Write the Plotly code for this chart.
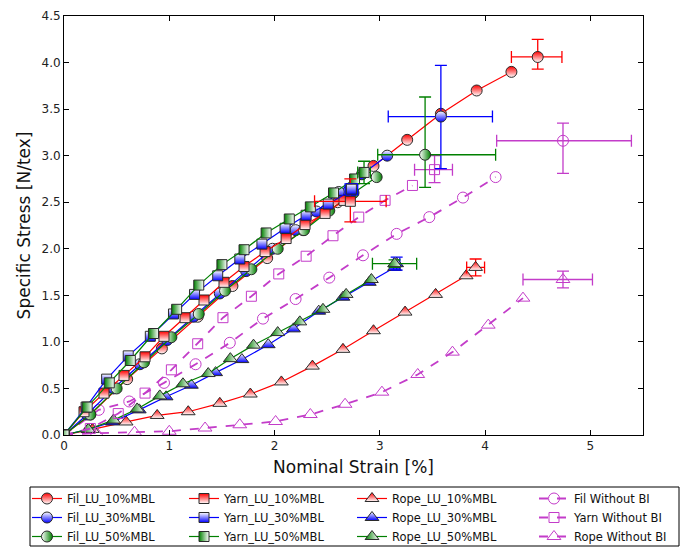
import plotly.graph_objects as go

# ---------------- data ----------------
fil10_x = [0, 0.25, 0.6, 0.93, 1.27, 1.6, 1.93, 2.27, 2.6, 2.94, 3.26, 3.58, 3.92, 4.25]
fil10_y = [0, 0.22, 0.6, 0.93, 1.27, 1.6, 1.9, 2.2, 2.5, 2.89, 3.17, 3.45, 3.70, 3.90]
fil30_x = [0, 0.22, 0.47, 0.72, 0.98, 1.23, 1.48, 1.73, 1.98, 2.2, 2.4, 2.61, 2.83, 3.07]
fil30_y = [0, 0.22, 0.5, 0.76, 1.02, 1.27, 1.52, 1.76, 2.0, 2.2, 2.4, 2.61, 2.80, 3.0]
fil50_x = [0, 0.25, 0.5, 0.76, 1.02, 1.28, 1.53, 1.78, 2.03, 2.28, 2.52, 2.75, 2.97]
fil50_y = [0, 0.22, 0.5, 0.78, 1.05, 1.3, 1.55, 1.78, 2.0, 2.2, 2.41, 2.60, 2.77]

yarn10_x = [0, 0.19, 0.38, 0.57, 0.77, 0.95, 1.15, 1.33, 1.52, 1.71, 1.91, 2.11, 2.29, 2.48, 2.66]
yarn10_y = [0, 0.25, 0.45, 0.64, 0.84, 1.06, 1.26, 1.45, 1.64, 1.81, 1.97, 2.11, 2.26, 2.38, 2.52]
yarn30_x = [0, 0.21, 0.405, 0.61, 0.82, 1.04, 1.24, 1.46, 1.67, 1.88, 2.10, 2.30, 2.51, 2.72]
yarn30_y = [0, 0.30, 0.60, 0.85, 1.06, 1.30, 1.51, 1.71, 1.89, 2.05, 2.22, 2.36, 2.48, 2.62]
yarn50_x = [0, 0.22, 0.43, 0.63, 0.85, 1.07, 1.28, 1.50, 1.71, 1.92, 2.14, 2.34, 2.56, 2.76]
yarn50_y = [0, 0.30, 0.56, 0.80, 1.09, 1.35, 1.61, 1.83, 1.99, 2.17, 2.32, 2.45, 2.60, 2.75]

rope10_x = [0, 0.27, 0.59, 0.885, 1.18, 1.48, 1.77, 2.065, 2.36, 2.65, 2.94, 3.24, 3.53, 3.82]
rope10_y = [0, 0.06, 0.14, 0.21, 0.25, 0.34, 0.44, 0.57, 0.74, 0.92, 1.12, 1.32, 1.51, 1.71]
rope30_x = [0, 0.23, 0.46, 0.715, 0.97, 1.21, 1.44, 1.69, 1.94, 2.18, 2.42, 2.65, 2.90, 3.14]
rope30_y = [0, 0.06, 0.14, 0.27, 0.41, 0.535, 0.67, 0.81, 0.97, 1.14, 1.33, 1.48, 1.64, 1.80]
rope50_x = [0, 0.23, 0.47, 0.695, 0.91, 1.13, 1.37, 1.58, 1.80, 2.03, 2.24, 2.46, 2.68, 2.92]
rope50_y = [0, 0.06, 0.16, 0.28, 0.42, 0.55, 0.66, 0.82, 0.965, 1.10, 1.215, 1.35, 1.51, 1.67]

filwo_x = [0, 0.33, 0.62, 0.95, 1.25, 1.575, 1.89, 2.2, 2.52, 2.84, 3.16, 3.47, 3.79, 4.1]
filwo_y = [0, 0.27, 0.36, 0.56, 0.76, 0.99, 1.25, 1.46, 1.69, 1.93, 2.16, 2.34, 2.55, 2.77]
yarnwo_x = [0, 0.25, 0.515, 0.77, 1.02, 1.27, 1.51, 1.78, 2.04, 2.30, 2.555, 2.80, 3.05, 3.31]
yarnwo_y = [0, 0.07, 0.23, 0.45, 0.70, 0.98, 1.26, 1.49, 1.73, 1.92, 2.14, 2.34, 2.52, 2.68]
ropewo_x = [0, 0.31, 0.67, 1.0, 1.34, 1.67, 2.01, 2.34, 2.67, 3.02, 3.36, 3.69, 4.03, 4.36]
ropewo_y = [0, 0.02, 0.03, 0.04, 0.075, 0.11, 0.145, 0.22, 0.33, 0.46, 0.65, 0.89, 1.18, 1.47]

# break points: [x, y, x_err_plus, x_err_minus, y_err_plus, y_err_minus]
fil10_break = [4.5, 4.06, 0.23, 0.25, 0.19, 0.13]
fil30_break = [3.58, 3.42, 0.49, 0.50, 0.55, 0.56]
fil50_break = [3.43, 3.01, 0.67, 0.45, 0.62, 0.35]
yarn10_break = [2.72, 2.51, 0.34, 0.34, 0.24, 0.22]
yarn30_break = [2.73, 2.64, 0.06, 0.06, 0.06, 0.06]
yarn50_break = [2.85, 2.82, 0.06, 0.06, 0.12, 0.12]
rope10_break = [3.91, 1.80, 0.085, 0.085, 0.09, 0.09]
rope30_break = [3.16, 1.84, 0.03, 0.03, 0.07, 0.07]
rope50_break = [3.14, 1.84, 0.21, 0.21, 0.04, 0.04]
filwo_break = [4.74, 3.16, 0.65, 0.63, 0.19, 0.35]
yarnwo_break = [3.52, 2.85, 0.17, 0.19, 0.15, 0.14]
ropewo_break = [4.74, 1.67, 0.28, 0.38, 0.09, 0.09]

x_ticks = [0, 1, 2, 3, 4, 5]
y_ticks = [0.0, 0.5, 1.0, 1.5, 2.0, 2.5, 3.0, 3.5, 4.0, 4.5]

RED, BLUE, GREEN, MAG = "#ff0000", "#0000ff", "#008000", "#c33cc9"
EDGE = "#2b2b2b"


def half_marker(symbol, color, half):
    # emulate matplotlib half-filled markers with a two-colour gradient
    if half == "top":
        return dict(symbol=symbol, color=color, gradient=dict(type="vertical", color="white"))
    if half == "bottom":
        return dict(symbol=symbol, color="white", gradient=dict(type="vertical", color=color))
    if half == "left":
        return dict(symbol=symbol, color="white", gradient=dict(type="horizontal", color=color))
    return dict(symbol=symbol, color=color, gradient=dict(type="horizontal", color="white"))


def make_marker(sym, col, half):
    size = {"circle": 11, "square": 10, "triangle-up": 12}.get(sym.replace("-open", ""), 11)
    if half is None:
        return dict(symbol=sym, color=col, size=size, line=dict(color=col, width=1))
    mk = half_marker(sym, col, half)
    mk.update(size=size, line=dict(color=EDGE, width=1))
    return mk


series = [
    # name, x, y, break, symbol, colour, half, legend column
    ("Fil_LU_10%MBL", fil10_x, fil10_y, fil10_break, "circle", RED, "top", "legend"),
    ("Fil_LU_30%MBL", fil30_x, fil30_y, fil30_break, "circle", BLUE, "bottom", "legend"),
    ("Fil_LU_50%MBL", fil50_x, fil50_y, fil50_break, "circle", GREEN, "left", "legend"),
    ("Yarn_LU_10%MBL", yarn10_x, yarn10_y, yarn10_break, "square", RED, "top", "legend2"),
    ("Yarn_LU_30%MBL", yarn30_x, yarn30_y, yarn30_break, "square", BLUE, "bottom", "legend2"),
    ("Yarn_LU_50%MBL", yarn50_x, yarn50_y, yarn50_break, "square", GREEN, "right", "legend2"),
    ("Rope_LU_10%MBL", rope10_x, rope10_y, rope10_break, "triangle-up", RED, "top", "legend3"),
    ("Rope_LU_30%MBL", rope30_x, rope30_y, rope30_break, "triangle-up", BLUE, "bottom", "legend3"),
    ("Rope_LU_50%MBL", rope50_x, rope50_y, rope50_break, "triangle-up", GREEN, "right", "legend3"),
    ("Fil Without BI", filwo_x, filwo_y, filwo_break, "circle-open", MAG, None, "legend4"),
    ("Yarn Without BI", yarnwo_x, yarnwo_y, yarnwo_break, "square-open", MAG, None, "legend4"),
    ("Rope Without BI", ropewo_x, ropewo_y, ropewo_break, "triangle-up-open", MAG, None, "legend4"),
]

fig = go.Figure()
draw_order = [6, 7, 8, 9, 10, 11, 0, 1, 2, 3, 4, 5]
for i in draw_order:
    name, xs, ys, brk, sym, col, half, leg = series[i]
    if half is None:
        ln = dict(color=col, width=1.8, dash="dash")
    else:
        ln = dict(color=col, width=1.2)
    fig.add_trace(go.Scatter(x=xs, y=ys, mode="lines+markers", name=name, legend=leg,
                             legendrank=i + 1, line=ln, marker=make_marker(sym, col, half)))
for i in draw_order:
    name, xs, ys, brk, sym, col, half, leg = series[i]
    fig.add_trace(go.Scatter(
        x=[brk[0]], y=[brk[1]], mode="markers", showlegend=False, legend=leg,
        marker=make_marker(sym, col, half),
        error_x=dict(type="data", symmetric=False, array=[brk[2]], arrayminus=[brk[3]],
                     color=col, thickness=1.3, width=6),
        error_y=dict(type="data", symmetric=False, array=[brk[4]], arrayminus=[brk[5]],
                     color=col, thickness=1.3, width=6)))

axis_common = dict(showline=True, linecolor="black", linewidth=1, mirror="allticks",
                   ticks="inside", ticklen=5, tickcolor="black", showgrid=False,
                   zeroline=False, tickfont=dict(size=12, color="#222"))
fig.update_xaxes(range=[0, 5.5], tickvals=x_ticks, ticktext=[str(v) for v in x_ticks],
                 title=dict(text="Nominal Strain [%]", font=dict(size=17, color="#111"), standoff=8),
                 **axis_common)
fig.update_yaxes(range=[0, 4.5], tickvals=y_ticks, ticktext=[f"{v:.1f}" for v in y_ticks],
                 title=dict(text="Specific Stress [N/tex]", font=dict(size=17, color="#111"), standoff=6),
                 **axis_common)

plot_w = 691 - 64 - 48
plot_h = 548 - 16 - 113
leg_common = dict(orientation="v", yanchor="top", xanchor="left", y=(435 - 484) / plot_h,
                  borderwidth=0, bgcolor="rgba(0,0,0,0)", font=dict(size=11.5),
                  itemwidth=30, tracegroupgap=0)
col_px = [27, 184, 352, 534]
fig.update_layout(
    width=691, height=548,
    margin=dict(l=64, r=48, t=16, b=113, autoexpand=False),
    paper_bgcolor="white", plot_bgcolor="white",
    font=dict(family="DejaVu Sans", color="#111"),
    legend=dict(x=(col_px[0] - 64) / plot_w, **leg_common),
    legend2=dict(x=(col_px[1] - 64) / plot_w, **leg_common),
    legend3=dict(x=(col_px[2] - 64) / plot_w, **leg_common),
    legend4=dict(x=(col_px[3] - 64) / plot_w, **leg_common),
    shapes=[dict(type="rect", xref="paper", yref="paper",
                 x0=(30 - 64) / plot_w, x1=(679 - 64) / plot_w,
                 y0=(435 - 546) / plot_h, y1=(435 - 487) / plot_h,
                 line=dict(color="black", width=1), fillcolor="rgba(0,0,0,0)", layer="below")],
)

fig.write_html("out.html")
